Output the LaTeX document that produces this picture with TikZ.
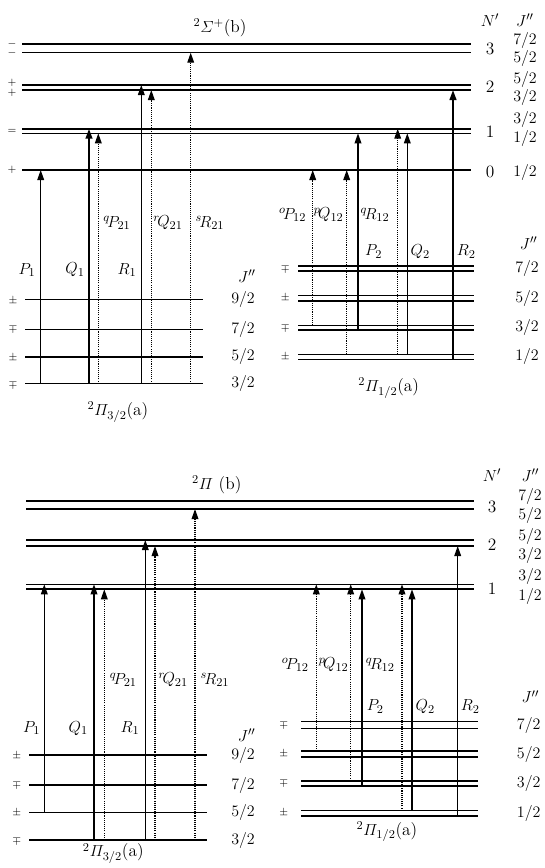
\documentclass[tikz,border=0pt]{standalone}
\usepackage{amsmath}
\usetikzlibrary{arrows.meta}
\tikzset{
 lvl/.style={line width=1.0pt},
 lvlthick/.style={line width=1.5pt},
 trsolid/.style={line width=1.0pt,-{Triangle[length=7.5pt,width=5pt]}},
 trthick/.style={line width=1.6pt,-{Triangle[length=7.5pt,width=5pt]}},
 trdot/.style={line width=0.9pt,dash pattern=on 0.8pt off 0.8pt,-{Triangle[length=7.5pt,width=5pt]}},
 lab/.style={inner sep=0pt,font=\fontsize{13}{15}\selectfont},
 sgn/.style={inner sep=0pt,font=\fontsize{8.5}{9}\selectfont},
 sgnpair/.style={inner sep=0pt,align=center,font=\fontsize{8.5}{9}\selectfont},
}
\newcommand{\transarrow}[5]{%
  \coordinate (#5s) at (#2,#3);
  \coordinate (#5e) at (#2,#4);
  \draw[#1] (#5s) -- (#5e);}
\begin{document}
\begin{tikzpicture}[x=0.75pt,y=-0.75pt]
\useasboundingbox (0,0) rectangle (544,868);

%================ TOP DIAGRAM =================
% upper state levels
\draw[lvlthick] (22,44) -- (471,44);
\draw[lvl] (22,52.7) -- (471,52.7);
\draw[lvl] (22,85) -- (471,85);
\draw[lvl] (22,90) -- (471,90);
\draw[lvlthick] (22,128.7) -- (471,128.7);
\draw[lvl] (22,133.3) -- (471,133.3);
\draw[lvl] (22,170) -- (471,170);
% parity signs
\node[sgnpair] (ta1) at (12,48.3) {$-$\\[-2.5pt]$-$};
\node[sgnpair] (ta2) at (12,88.3) {$+$\\[-1.5pt]$+$};
\node[sgn] (ta3) at (12,131) {$=$};
\node[sgn] (ta7) at (12,170) {$+$};
% titles and labels
\node[lab] (tT) at (220,28) {$^{2}\varSigma^{+}$(b)};
\node[lab] (tN) at (490,20) {$N'$};
\node[lab] (tJ) at (525,20) {$J''$};
\node[lab] (tN3) at (490,49) {3};
\node[lab] (tJ72) at (525,40) {$7/2$};
\node[lab] (tJ52) at (525,58) {$5/2$};
\node[lab] (tN2) at (490,87) {2};
\node[lab] (tJ52b) at (525,79) {$5/2$};
\node[lab] (tJ32) at (525,97.5) {$3/2$};
\node[lab] (tN1) at (490,132) {1};
\node[lab] (tJ32b) at (525,119.5) {$3/2$};
\node[lab] (tJ12) at (525,138) {$1/2$};
\node[lab] (tN0) at (490,172) {0};
\node[lab] (tJ12b) at (525,172) {$1/2$};

% lower-left (Pi 3/2)
\draw[lvl] (25,299.3) -- (202.7,299.3);
\draw[lvl] (25,329.3) -- (202.7,329.3);
\draw[lvlthick] (25,356.7) -- (202.7,356.7);
\draw[lvl] (25,383.7) -- (202.7,383.7);
\node[sgn] (tsl1) at (13,300.5) {$\pm$};
\node[sgn] (tsl2) at (13,329) {$\mp$};
\node[sgn] (tsl3) at (13,357.5) {$\pm$};
\node[sgn] (tsl4) at (13,384.5) {$\mp$};
\node[lab] (tLJ) at (247,276) {$J''$};
\node[lab] (tL92) at (243,299.3) {$9/2$};
\node[lab] (tL72) at (243,329.3) {$7/2$};
\node[lab] (tL52) at (243,356.7) {$5/2$};
\node[lab] (tL32) at (243,383.7) {$3/2$};
\node[lab] (tLT) at (118,412) {$^{2}\varPi_{3/2}$(a)};

% lower-right (Pi 1/2)
\draw[lvlthick] (298,266) -- (474,266);
\draw[lvlthick] (298,271) -- (474,271);
\draw[lvl] (298,295.3) -- (474,295.3);
\draw[lvlthick] (298,301.3) -- (474,301.3);
\draw[lvl] (298,325.3) -- (474,325.3);
\draw[lvl] (298,330) -- (474,330);
\draw[lvl] (298,354.3) -- (474,354.3);
\draw[lvl] (298,359.3) -- (474,359.3);
\node[sgn] (tsr1) at (285.3,268.5) {$\mp$};
\node[sgn] (tsr2) at (285.3,298.3) {$\pm$};
\node[sgn] (tsr3) at (285.3,327.7) {$\mp$};
\node[sgn] (tsr4) at (285.3,356.8) {$\pm$};
\node[lab] (tRJ) at (528.7,243) {$J''$};
\node[lab] (tR72) at (527,268.5) {$7/2$};
\node[lab] (tR52) at (527,298.3) {$5/2$};
\node[lab] (tR32) at (527,327.7) {$3/2$};
\node[lab] (tR12) at (527,356.8) {$1/2$};
\node[lab] (tRT) at (388.7,388) {$^{2}\varPi_{1/2}$(a)};

% transitions
\transarrow{trsolid}{40.7}{383.7}{170}{tP1}
\transarrow{trthick}{89}{383.7}{128.7}{tQ1}
\transarrow{trdot}{98.3}{383.7}{133.3}{tqP21}
\transarrow{trsolid}{141.3}{383.7}{85}{tR1}
\transarrow{trdot}{151.3}{383.7}{90}{trQ21}
\transarrow{trdot}{190.7}{383.7}{52.7}{tsR21}
\transarrow{trdot}{312.7}{325.3}{170}{toP12}
\transarrow{trdot}{346.7}{354.3}{170}{tpQ12}
\transarrow{trsolid}{358}{330}{133.3}{tP2}
\transarrow{trdot}{397.7}{354.3}{128.7}{tqR12}
\transarrow{trsolid}{407.3}{354.3}{133.3}{tQ2}
\transarrow{trthick}{453}{359.3}{90}{tR2}

% transition labels
\node[lab] (ltqP21) at (117,223) {${}^{q}\!P_{21}$};
\node[lab] (ltrQ21) at (168,223) {${}^{r}\!Q_{21}$};
\node[lab] (ltsR21) at (210,223) {${}^{s}\!R_{21}$};
\node[lab] (ltP1) at (27,270) {$P_{1}$};
\node[lab] (ltQ1) at (75,270) {$Q_{1}$};
\node[lab] (ltR1) at (127,270) {$R_{1}$};
\node[lab] (ltoP12) at (292.7,215) {${}^{o}\!P_{12}$};
\node[lab] (ltpQ12) at (328.7,215) {${}^{p}\!Q_{12}$};
\node[lab] (ltqR12) at (375,215) {${}^{q}\!R_{12}$};
\node[lab] (ltP2) at (373.7,251.7) {$P_{2}$};
\node[lab] (ltQ2) at (420.3,251.7) {$Q_{2}$};
\node[lab] (ltR2) at (466.3,251.7) {$R_{2}$};

%================ BOTTOM DIAGRAM =================
\draw[lvlthick] (26,500.7) -- (474.3,500.7);
\draw[lvl] (26,509) -- (474.3,509);
\draw[lvl] (26,540) -- (474.3,540);
\draw[lvlthick] (26,546) -- (474.3,546);
\draw[lvl] (26,584.3) -- (474.3,584.3);
\draw[lvlthick] (26,589.3) -- (474.3,589.3);
\node[lab] (bT) at (216.7,485) {$^{2}\varPi$ (b)};
\node[lab] (bN) at (492,475) {$N'$};
\node[lab] (bJ) at (530.3,475) {$J''$};
\node[lab] (bN3) at (492,506.7) {3};
\node[lab] (bJ72) at (530,496) {$7/2$};
\node[lab] (bJ52) at (530,515) {$5/2$};
\node[lab] (bN2) at (492,545) {2};
\node[lab] (bJ52b) at (530,536) {$5/2$};
\node[lab] (bJ32) at (530,555) {$3/2$};
\node[lab] (bN1) at (492,588.3) {1};
\node[lab] (bJ32b) at (530,576.7) {$3/2$};
\node[lab] (bJ12) at (530,596.7) {$1/2$};

% lower-left
\draw[lvlthick] (29.3,755) -- (207.3,755);
\draw[lvlthick] (29.3,785) -- (207.3,785);
\draw[lvl] (29.3,812.3) -- (207.3,812.3);
\draw[lvlthick] (29.3,840) -- (207.3,840);
\node[sgn] (bsl1) at (16.7,756) {$\pm$};
\node[sgn] (bsl2) at (16.7,785) {$\mp$};
\node[sgn] (bsl3) at (16.7,813) {$\pm$};
\node[sgn] (bsl4) at (16.7,841) {$\mp$};
\node[lab] (bLJ) at (246.7,735) {$J''$};
\node[lab] (bL92) at (243,755.5) {$9/2$};
\node[lab] (bL72) at (243,785) {$7/2$};
\node[lab] (bL52) at (243,812.3) {$5/2$};
\node[lab] (bL32) at (243,840) {$3/2$};
\node[lab] (bLT) at (113.3,853.3) {$^{2}\varPi_{3/2}$(a)};

% lower-right
\draw[lvl] (301.3,721.7) -- (477.7,721.7);
\draw[lvl] (301.3,728.3) -- (477.7,728.3);
\draw[lvl] (301.3,751) -- (477.7,751);
\draw[lvlthick] (301.3,757.3) -- (477.7,757.3);
\draw[lvlthick] (301.3,780.7) -- (477.7,780.7);
\draw[lvl] (301.3,786) -- (477.7,786);
\draw[lvl] (301.3,810.7) -- (477.7,810.7);
\draw[lvlthick] (301.3,815.7) -- (477.7,815.7);
\node[sgn] (bsr1) at (283.7,725) {$\mp$};
\node[sgn] (bsr2) at (283.7,754) {$\pm$};
\node[sgn] (bsr3) at (283.7,783.3) {$\mp$};
\node[sgn] (bsr4) at (283.7,813.2) {$\pm$};
\node[lab] (bRJ) at (530.3,696.7) {$J''$};
\node[lab] (bR72) at (528.7,725) {$7/2$};
\node[lab] (bR52) at (528.7,754) {$5/2$};
\node[lab] (bR32) at (528.7,783.3) {$3/2$};
\node[lab] (bR12) at (528.7,813.2) {$1/2$};
\node[lab] (bRT) at (387,831.7) {$^{2}\varPi_{1/2}$(a)};

% transitions
\transarrow{trsolid}{44.3}{812.3}{584.3}{bP1}
\transarrow{trsolid}{94}{840}{584.3}{bQ1}
\transarrow{trdot}{104.3}{840}{589.3}{bqP21}
\transarrow{trsolid}{145.3}{840}{540}{bR1}
\transarrow{trdot}{155}{840}{546}{brQ21}
\transarrow{trdot}{195}{840}{509}{bsR21}
\transarrow{trdot}{316.3}{751}{584.3}{boP12}
\transarrow{trdot}{350.7}{780.7}{584.3}{bpQ12}
\transarrow{trsolid}{362}{786}{589.3}{bP2}
\transarrow{trdot}{402}{810.7}{584.3}{bqR12}
\transarrow{trsolid}{412}{810.7}{589.3}{bQ2}
\transarrow{trsolid}{457.7}{815.7}{546}{bR2}

% transition labels
\node[lab] (lbqP21) at (123.3,680) {${}^{q}\!P_{21}$};
\node[lab] (lbrQ21) at (173.3,680) {${}^{r}\!Q_{21}$};
\node[lab] (lbsR21) at (215,680) {${}^{s}\!R_{21}$};
\node[lab] (lbP1) at (31.7,728.3) {$P_{1}$};
\node[lab] (lbQ1) at (78.3,728.3) {$Q_{1}$};
\node[lab] (lbR1) at (130,728.3) {$R_{1}$};
\node[lab] (lboP12) at (295.3,665) {${}^{o}\!P_{12}$};
\node[lab] (lbpQ12) at (333.7,665) {${}^{p}\!Q_{12}$};
\node[lab] (lbqR12) at (380.3,665) {${}^{q}\!R_{12}$};
\node[lab] (lbP2) at (375.3,706.7) {$P_{2}$};
\node[lab] (lbQ2) at (425.3,706.7) {$Q_{2}$};
\node[lab] (lbR2) at (470.3,706.7) {$R_{2}$};
\end{tikzpicture}
\end{document}
